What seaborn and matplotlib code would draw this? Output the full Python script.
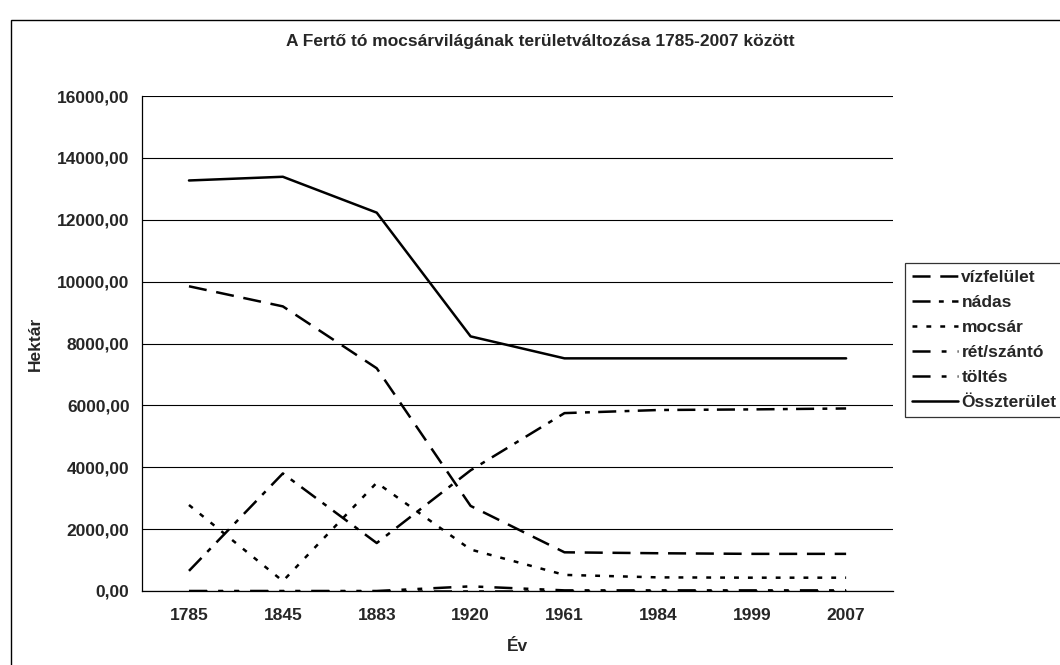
import numpy as np
import pandas as pd
import seaborn as sns
import matplotlib.pyplot as plt
from matplotlib.patches import Rectangle
from matplotlib.ticker import FuncFormatter

years = ['1785', '1845', '1883', '1920', '1961', '1984', '1999', '2007']
vizfelulet = [9850, 9200, 7200, 2750, 1250, 1220, 1200, 1200]
nadas = [650, 3800, 1550, 3900, 5750, 5850, 5870, 5900]
mocsar = [2780, 320, 3500, 1340, 520, 440, 430, 430]
ret_szanto = [0, 0, 0, 0, 0, 0, 0, 0]
toltes = [0, 0, 0, 150, 20, 20, 20, 20]
osszterulet = [13270, 13390, 12230, 8230, 7520, 7520, 7520, 7520]

series = {
    'vízfelület': vizfelulet,
    'nádas': nadas,
    'mocsár': mocsar,
    'rét/szántó': ret_szanto,
    'töltés': toltes,
    'Összterület': osszterulet,
}
styles = {
    'vízfelület': (0, (13, 7)),
    'nádas': (0, (13, 6, 3.5, 6)),
    'mocsár': (0, (3.5, 6.5)),
    'rét/szántó': (0, (13, 8, 3.5, 8, 3.5, 8)),
    'töltés': (0, (13, 8, 3.5, 8, 3.5, 8)),
    'Összterület': '-',
}

sns.set_style('white')
plt.rcParams['font.family'] = ['Liberation Sans', 'DejaVu Sans']
plt.rcParams['font.weight'] = 'bold'
plt.rcParams['lines.scale_dashes'] = False
fs = 12.5

fig = plt.figure(figsize=(10.6, 6.65), dpi=100)
ax = fig.add_axes([0.134, 0.1113, 0.7085, 0.7443])

pos = np.arange(len(years))
for name, vals in series.items():
    df = pd.DataFrame({'x': pos, 'y': vals})
    sns.lineplot(data=df, x='x', y='y', ax=ax, color='black', linewidth=1.8,
                 linestyle=styles[name], label=name, zorder=3)

ax.set_xlim(-0.5, len(years) - 0.5)
ax.set_ylim(0, 16000)
ax.set_yticks(np.arange(0, 16001, 2000))
ax.yaxis.set_major_formatter(FuncFormatter(lambda v, p: f'{v:.2f}'.replace('.', ',')))
ax.set_xticks(pos)
ax.set_xticklabels(years)
ax.set_xticks(np.arange(-0.5, len(years)), minor=True)
ax.tick_params(axis='x', which='major', length=0, pad=12, labelsize=fs)
ax.tick_params(axis='x', which='minor', length=5, width=0.8, direction='out', color='black')
ax.tick_params(axis='y', length=5, width=0.8, direction='out', color='black', pad=4, labelsize=fs)
for lab in ax.get_xticklabels() + ax.get_yticklabels():
    lab.set_fontweight('bold')

ax.grid(axis='y', color='black', linewidth=0.8)
ax.set_axisbelow(True)
for s in ['top', 'right']:
    ax.spines[s].set_visible(False)
for s in ['left', 'bottom']:
    ax.spines[s].set_color('black')
    ax.spines[s].set_linewidth(0.9)

ax.set_xlabel('Év', fontsize=fs, fontweight='bold', labelpad=12)
ax.set_ylabel('Hektár', fontsize=fs, fontweight='bold', labelpad=10)
fig.text(0.51, 0.937, 'A Fertő tó mocsárvilágának területváltozása 1785-2007 között',
         ha='center', va='center', fontsize=fs, fontweight='bold')

leg = ax.legend(loc='upper left', bbox_to_anchor=(905 / 1060, 1 - 263 / 665),
                bbox_transform=fig.transFigure, frameon=True, fancybox=False,
                fontsize=fs, handlelength=2.65, handletextpad=0.2,
                labelspacing=0.57, borderpad=0.4, borderaxespad=0)
leg.get_frame().set_edgecolor('black')
leg.get_frame().set_linewidth(0.9)
for t in leg.get_texts():
    t.set_fontweight('bold')

fig.patches.append(Rectangle((11 / 1060, -0.2), 1.2, 1.2 - 20 / 665,
                             transform=fig.transFigure, fill=False,
                             edgecolor='black', linewidth=1.0))

fig.savefig('out.png', dpi=100)
